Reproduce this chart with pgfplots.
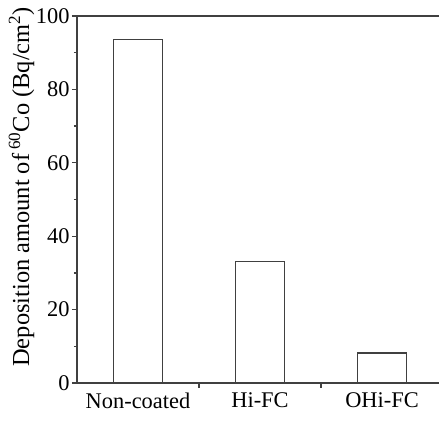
\documentclass[border=0pt]{standalone}
\usepackage{fontspec}
\setmainfont{Liberation Serif}
\usepackage{pgfplots}
\pgfplotsset{compat=1.18}
\begin{document}
\begin{tikzpicture}
\begin{axis}[
  name=main,
  scale only axis, width=362bp, height=367bp,
  xmin=-0.5, xmax=2.467, ymin=0, ymax=100,
  axis lines=left,
  axis line style={-, line width=1.4bp, black!75},
  ytick={0,20,40,60,80,100},
  minor ytick={10,30,50,70,90},
  ytick align=outside, xtick align=inside,
  major tick length=5bp, minor tick length=3bp,
  tick style={line width=1.3bp, black!75},
  xtick={0.5,1.5}, xticklabels={},
  extra x ticks={0,1,2},
  extra x tick labels={Non-coated,Hi-FC,OHi-FC},
  extra x tick style={major tick length=0pt, tick style={draw=none}},
  tick label style={font=\fontsize{22.5}{24}\selectfont},
  /pgf/number format/assume math mode=true,
  xticklabel style={yshift=-6bp},
  yticklabel style={xshift=1bp},
  ylabel={Deposition amount of\,\textsuperscript{60}Co (Bq/cm\textsuperscript{2})},
  ylabel style={font=\fontsize{24.5}{26}\selectfont, inner sep=0pt, at={(axis description cs:-0.153,0.044)}, anchor=west},
  ybar, bar width=0.4,
  clip=false,
]
\addplot[fill=white, draw=black!75, line width=1.4bp] coordinates {(0,93.6) (1,33.1) (2,8.2)};
\draw[line width=1.4bp, black!75] (rel axis cs:0,1) -- (rel axis cs:1,1);
\end{axis}
\pgfresetboundingbox
\useasboundingbox ([xshift=-77bp,yshift=-40bp]main.south west) rectangle ([yshift=16bp]main.north east);
\end{tikzpicture}
\end{document}
